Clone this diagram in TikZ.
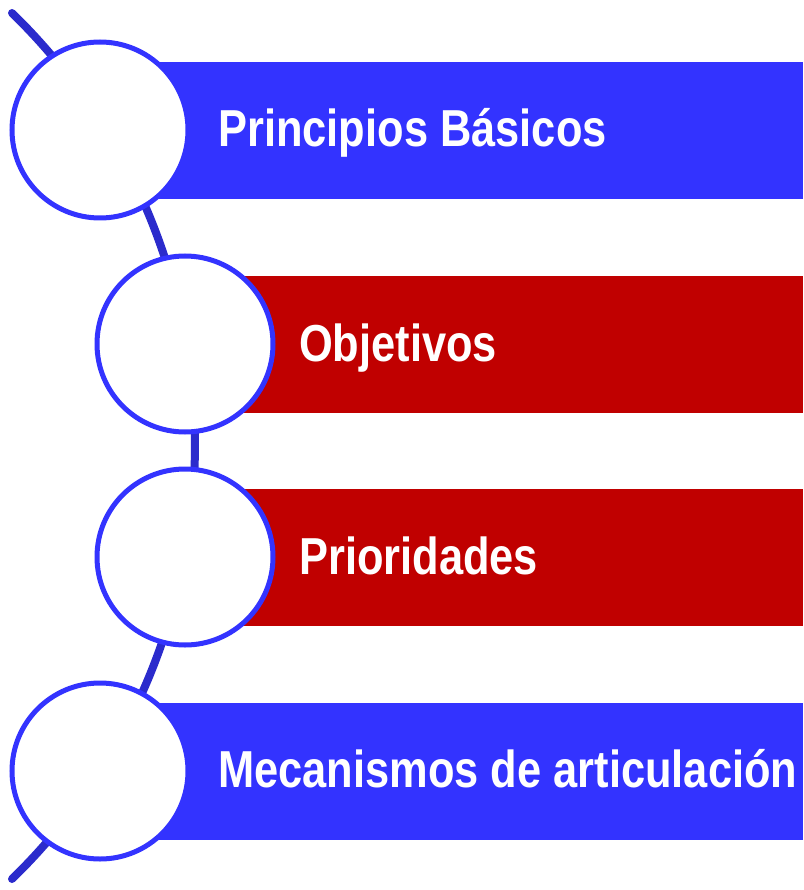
\documentclass[tikz,border=0pt]{standalone}
\usepackage{fontspec}
\setmainfont[FakeStretch=0.835]{Liberation Sans}
\usepackage{tikz}
\usetikzlibrary{calc}

\definecolor{barblue}{RGB}{51,51,255}
\definecolor{barred}{RGB}{192,0,0}
\definecolor{linkblue}{RGB}{43,43,204}

\tikzset{
    bluebar/.style={fill=barblue, anchor=west, minimum width=653pt, minimum height=137pt, inner sep=0pt},
    redbar/.style={fill=barred, anchor=west, minimum width=563pt, minimum height=137pt, inner sep=0pt},
    ring/.style={circle, draw=barblue, line width=5pt, fill=white, minimum size=176pt, inner sep=0pt},
    label/.style={anchor=base west, inner sep=0pt, text=white, font=\fontsize{52}{60}\selectfont\bfseries}
}

\begin{document}
\begin{tikzpicture}[x=1pt,y=-1pt]
        \useasboundingbox (0,0) rectangle (803,890);

        % Link behind the circles
        \coordinate (arctop) at (12,13);
        \draw[linkblue,line width=8pt,line cap=round] (arctop) arc[start angle=45.8, end angle=-45.8, radius=604pt];

        % Bars
        \node[bluebar] (bar1) at (150,130.5) {};
        \node[redbar]  (bar2) at (240,344.5) {};
        \node[redbar]  (bar3) at (240,557.5) {};
        \node[bluebar] (bar4) at (150,771) {};

        % Circles
        \node[ring] (c1) at (100,130) {};
        \node[ring] (c2) at (185,344) {};
        \node[ring] (c3) at (185,557) {};
        \node[ring] (c4) at (100,771) {};

        % Texts
        \node[label] (t1) at (218,147) {Principios Básicos};
        \node[label] (t2) at (299,361) {Objetivos};
        \node[label] (t3) at (299,574) {Prioridades};
        \node[label] (t4) at (218,787.5) {Mecanismos de articulación};

    \end{tikzpicture}
\end{document}
